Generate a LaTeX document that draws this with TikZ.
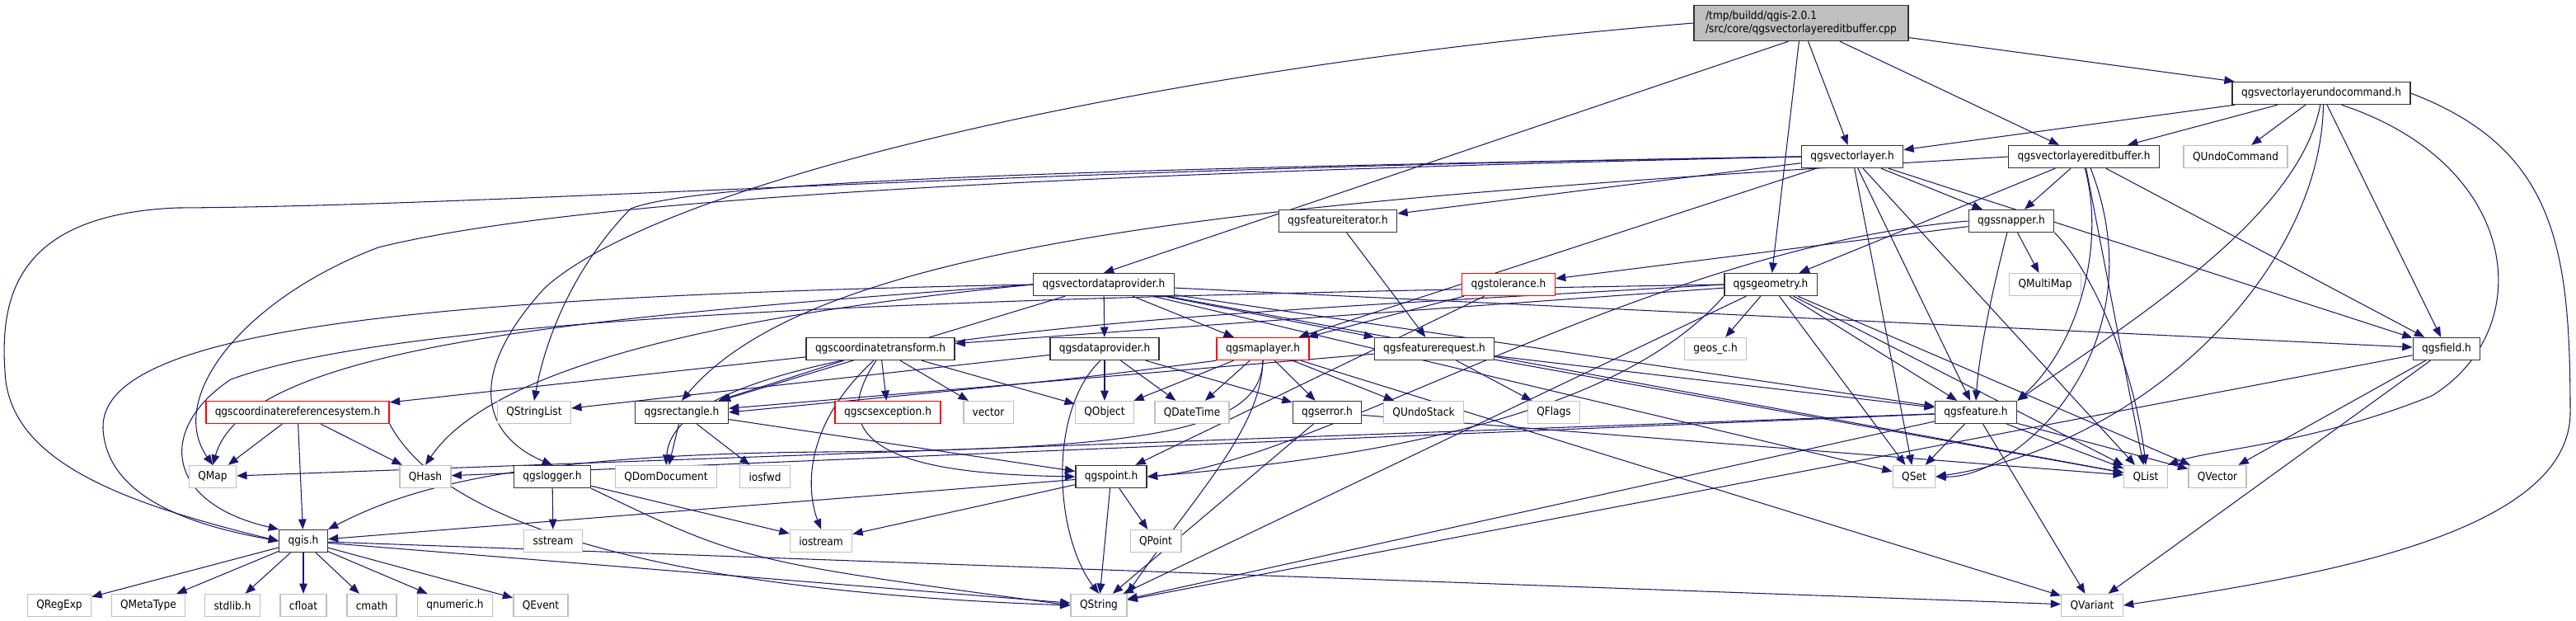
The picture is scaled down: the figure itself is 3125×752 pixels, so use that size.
\documentclass[tikz,border=0pt]{standalone}
\usepackage{fontspec}
\setmainfont{DejaVu Sans}[FakeStretch=0.9]
\usetikzlibrary{arrows.meta}
\definecolor{edgeblue}{HTML}{191970}
\definecolor{boxgray}{HTML}{BFBFBF}
\pgfdeclarelayer{background}
\pgfsetlayers{background,main}
\tikzset{
  hdr/.style={draw=black!80, line width=0.8pt, fill=white, inner xsep=6.2pt, inner ysep=0pt,
    minimum height=0.54cm, font=\fontsize{7.7pt}{9.3pt}\selectfont},
  sys/.style={hdr, draw=boxgray},
  trunc/.style={hdr, draw=red},
  rootbox/.style={hdr, fill=boxgray, align=left, inner xsep=8pt, minimum height=0.86cm},
  dep/.style={edgeblue, line width=0.6pt, -{Triangle[length=7pt,width=5.5pt]}},
}
\begin{document}
\begin{tikzpicture}[x=0.02cm, y=-0.02cm]
\useasboundingbox (0,0) rectangle (3125,752);
%rank 0 and 1
\node[rootbox] (root) at (2185,28) {/tmp/buildd/qgis-2.0.1\\/src/core/qgsvectorlayereditbuffer.cpp};
\node[hdr] (undocmd) at (2816,113) {qgsvectorlayerundocommand.h};
%rank 2
\node[hdr] (vlayer) at (2247,190) {qgsvectorlayer.h};
\node[hdr] (editbuf) at (2528,190) {qgsvectorlayereditbuffer.h};
\node[sys] (qundocmd) at (2712,190) {QUndoCommand};
%rank 3
\node[hdr] (featiter) at (1623,268) {qgsfeatureiterator.h};
\node[hdr] (snapper) at (2440,268) {qgssnapper.h};
%rank 4
\node[hdr] (vdp) at (1339,345) {qgsvectordataprovider.h};
\node[trunc] (tolerance) at (1830,345) {qgstolerance.h};
\node[hdr] (geometry) at (2148,345) {qgsgeometry.h};
\node[sys] (qmultimap) at (2481,345) {QMultiMap};
%rank 5
\node[hdr] (ctransform) at (1068,423) {qgscoordinatetransform.h};
\node[hdr] (dataprov) at (1340,423) {qgsdataprovider.h};
\node[trunc] (maplayer) at (1532,423) {qgsmaplayer.h};
\node[hdr] (featreq) at (1740,423) {qgsfeaturerequest.h};
\node[sys] (geos) at (2081,423) {geos\_c.h};
\node[hdr] (field) at (2968,423) {qgsfield.h};
%rank 6
\node[trunc] (crs) at (361,500) {qgscoordinatereferencesystem.h};
\node[sys] (qstringlist) at (648,500) {QStringList};
\node[hdr] (rectangle) at (827,500) {qgsrectangle.h};
\node[trunc] (csexcept) at (1077,500) {qgscsexception.h};
\node[sys] (vector) at (1199,500) {vector};
\node[sys] (qobject) at (1340,500) {QObject};
\node[sys] (qdatetime) at (1446,500) {QDateTime};
\node[hdr] (qgserror) at (1610,500) {qgserror.h};
\node[sys] (qundostack) at (1727,500) {QUndoStack};
\node[sys] (qflags) at (1885,500) {QFlags};
\node[hdr] (feature) at (2397,500) {qgsfeature.h};
%rank 7
\node[sys] (qmap) at (258,578) {QMap};
\node[sys] (qhash) at (516,578) {QHash};
\node[hdr] (logger) at (670,578) {qgslogger.h};
\node[sys] (qdomdoc) at (808,578) {QDomDocument};
\node[sys] (iosfwd) at (928,578) {iosfwd};
\node[hdr] (qgspoint) at (1348,578) {qgspoint.h};
\node[sys] (qset) at (2322,578) {QSet};
\node[sys] (qlist) at (2603,578) {QList};
\node[sys] (qvector) at (2690,578) {QVector};
%rank 8
\node[hdr] (qgis) at (368,656) {qgis.h};
\node[sys] (sstream) at (671,656) {sstream};
\node[sys] (iostream) at (996,656) {iostream};
\node[sys] (qpoint) at (1402,656) {QPoint};
%rank 9
\node[sys] (qregexp) at (72,734) {QRegExp};
\node[sys] (qmetatype) at (180,734) {QMetaType};
\node[sys] (stdlib) at (282,734) {stdlib.h};
\node[sys] (cfloat) at (368,734) {cfloat};
\node[sys] (cmath) at (451,734) {cmath};
\node[sys] (qnumeric) at (552,734) {qnumeric.h};
\node[sys] (qevent) at (656,734) {QEvent};
\node[sys] (qstring) at (1333,734) {QString};
\node[sys] (qvariant) at (2538,734) {QVariant};

\begin{pgfonlayer}{background}
%straight includes
\foreach \a/\b in {root/vlayer, root/geometry, root/editbuf, root/undocmd,
  undocmd/vlayer, undocmd/editbuf, undocmd/qundocmd, undocmd/field,
  editbuf/geometry, editbuf/snapper, editbuf/qlist, editbuf/field,
  vlayer/featiter, vlayer/maplayer, vlayer/snapper, vlayer/field, vlayer/feature, vlayer/qset, vlayer/qlist,
  featiter/featreq,
  snapper/tolerance, snapper/qmultimap,
  vdp/dataprov, vdp/field, vdp/feature, vdp/qset, vdp/qlist, vdp/maplayer, vdp/featreq, vdp/rectangle,
  tolerance/maplayer, tolerance/qgspoint,
  geometry/ctransform, geometry/geos, geometry/qset, geometry/qlist, geometry/qvector, geometry/qstring, geometry/feature,
  ctransform/crs, ctransform/rectangle, ctransform/csexcept, ctransform/vector, ctransform/qobject,
  dataprov/qstringlist, dataprov/qobject, dataprov/qdatetime, dataprov/qgserror,
  maplayer/qobject, maplayer/qdatetime, maplayer/qgserror, maplayer/qundostack, maplayer/qvariant,
  featreq/rectangle, featreq/qflags, featreq/feature, featreq/qlist,
  field/qstring, field/qvariant, field/qvector,
  crs/qmap, crs/qgis, crs/qhash,
  qgserror/qstring, qgserror/qlist,
  rectangle/qdomdoc, rectangle/iosfwd, rectangle/qgspoint,
  feature/qmap, feature/qhash, feature/qset, feature/qstring, feature/qvariant, feature/qlist, feature/qvector,
  logger/sstream, logger/iostream,
  qgspoint/qgis, qgspoint/iostream, qgspoint/qstring, qgspoint/qpoint,
  qgis/qregexp, qgis/qmetatype, qgis/stdlib, qgis/cfloat, qgis/cmath, qgis/qnumeric, qgis/qevent,
  qgis/qstring, qgis/qvariant}
  \draw[dep] (\a) -- (\b);
%long curved includes
\draw[dep] (root.235) -- (vdp.north);
\draw[dep] (root.west) .. controls (1400,80) and (800,220) .. (660,350) .. controls (560,460) and (590,530) .. (logger.north);
\draw[dep] (vlayer.west) .. controls (1200,205) and (600,250) .. (215,252) .. controls (20,260) and (0,360) .. (6,450) .. controls (10,560) and (150,610) .. (qgis.west);
\draw[dep] (vlayer.west) .. controls (1300,210) and (700,240) .. (459,300) .. controls (300,360) and (200,480) .. (qmap.north);
\draw[dep] (vlayer.west) .. controls (1300,205) and (850,220) .. (765,253) .. controls (690,330) and (660,420) .. (qstringlist.north);
\draw[dep] (vdp.west) .. controls (500,360) and (120,400) .. (125,520) .. controls (130,610) and (250,640) .. (qgis.west);
\draw[dep] (vdp.west) .. controls (700,385) and (300,420) .. (qmap.north);
\draw[dep] (vdp.west) .. controls (900,380) and (600,440) .. (qhash.north);
\draw[dep] (editbuf.west) .. controls (1600,240) and (1000,280) .. (rectangle.north);
\draw[dep] (editbuf.300) .. controls (2620,420) and (2450,580) .. (qset.east);
\draw[dep] (editbuf.275) .. controls (2555,300) and (2520,420) .. (feature.north east);
\draw[dep] (undocmd.265) .. controls (2790,260) and (2600,380) .. (feature.north east);
\draw[dep] (undocmd.280) .. controls (2815,330) and (2600,540) .. (qset.east);
\draw[dep] (undocmd.330) .. controls (3060,200) and (3080,400) .. (2950,480) .. controls (2800,540) and (2680,545) .. (qlist.north east);
\draw[dep] (undocmd.east) .. controls (3100,180) and (3118,300) .. (3118,500) .. controls (3118,650) and (2800,700) .. (qvariant.east);
\draw[dep] (snapper.south east) .. controls (2540,330) and (2590,450) .. (qlist.north);
\draw[dep] (snapper.250) .. controls (2410,380) and (2400,440) .. (feature.north);
\draw[dep] (geometry.west) .. controls (1200,360) and (500,380) .. (280,460) .. controls (190,520) and (200,610) .. (qgis.north west);
\draw[dep] (geometry.west) .. controls (1500,380) and (820,400) .. (qdomdoc.north);
\draw[dep] (geometry.south west) .. controls (1950,520) and (1600,560) .. (qgspoint.east);
\draw[dep] (snapper.west) .. controls (2000,300) and (1600,560) .. (qgspoint.east);
\draw[dep] (maplayer.south) .. controls (1530,520) and (1400,545) .. (1000,548) .. controls (600,551) and (480,600) .. (qgis.north east);
\draw[dep] (maplayer.south) .. controls (1530,520) and (1450,600) .. (qstring.north east);
\draw[dep] (maplayer.south west) .. controls (1300,460) .. (rectangle.east);
\draw[dep] (dataprov.250) .. controls (1270,500) and (1280,650) .. (qstring.north);
\draw[dep] (ctransform.240) .. controls (970,520) and (980,600) .. (iostream.north);
\draw[dep] (ctransform.250) .. controls (980,560) and (1150,575) .. (qgspoint.west);
\draw[dep] (crs.south east) .. controls (550,660) and (900,720) .. (qstring.west);
\draw[dep] (logger.south east) .. controls (900,680) .. (qstring.west);
\end{pgfonlayer}
\end{tikzpicture}
\end{document}
